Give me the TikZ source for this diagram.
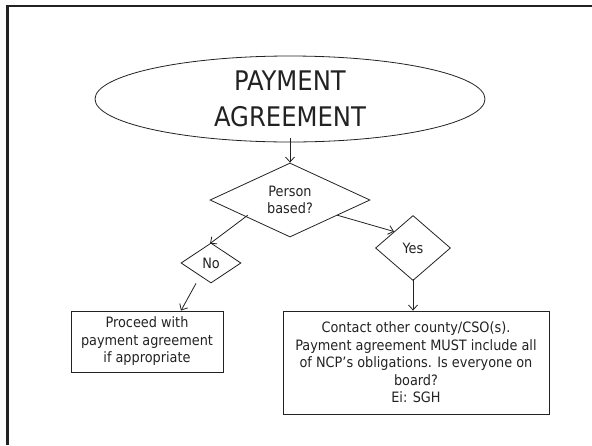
\documentclass[tikz,border=0pt]{standalone}
\usepackage{fontspec}
\setmainfont{DejaVu Sans Condensed}
\usetikzlibrary{shapes.geometric,arrows.meta,calc}
\definecolor{ink}{HTML}{222222}
\begin{document}
\begin{tikzpicture}[x=1pt,y=-1pt,
  every node/.style={text=ink},
  edge/.style={draw=ink,line width=0.8pt},
  arr/.style={edge,-{Straight Barb[length=5pt,width=9pt]}},
  body/.style={font=\fontsize{14.3}{17.5}\selectfont,align=center},
  decision/.style={diamond,edge,inner sep=0pt,aspect=2,body},
  stepbox/.style={rectangle,edge,inner sep=0pt,body}]
\useasboundingbox (0,0) rectangle (592,445);
% slide frame (top and left rules)
\draw[line width=2.5pt,ink] (592,6) -- (7.5,6) -- (7.5,445);

% title ellipse
\node[ellipse,edge,minimum width=390pt,minimum height=86pt,inner sep=0pt,
      align=center,font=\fontsize{27}{36}\selectfont] (title) at (290,99)
      {PAYMENT\\AGREEMENT};

% decisions
\node[decision,minimum width=160pt,minimum height=74pt] (pb) at (290,200)
      {Person\\based?};
\node[decision,minimum width=60pt,minimum height=40pt] (no) at (211,263) {No};
\node[decision,minimum width=75pt,minimum height=65pt] (yes) at (413,248) {Yes};

% outcome boxes
\node[stepbox,minimum width=152pt,minimum height=61pt] (proceed) at (147,341.5)
      {Proceed with\\payment agreement\\if appropriate};
\node[stepbox,minimum width=266pt,minimum height=103pt] (contact) at (416,362.5)
      {Contact other county/CSO(s).\\Payment agreement MUST include all\\of NCP’s obligations. Is everyone on\\board?\\Ei: SGH};

% connectors
\draw[arr] ([yshift=4pt]title.south) -- (pb.north);
\draw[arr] ([shift={(-2pt,3.5pt)}]pb.south west) -- ([shift={(-1pt,-1pt)}]no.north);
\draw[arr] ([shift={(7pt,3.5pt)}]pb.south east) -- (yes.north west);
\draw[arr] ([xshift=-15pt]no.south) -- ([xshift=34pt]proceed.north);
\draw[arr] ([yshift=2pt]yes.south) -- (yes.south |- contact.north);
\end{tikzpicture}
\end{document}
